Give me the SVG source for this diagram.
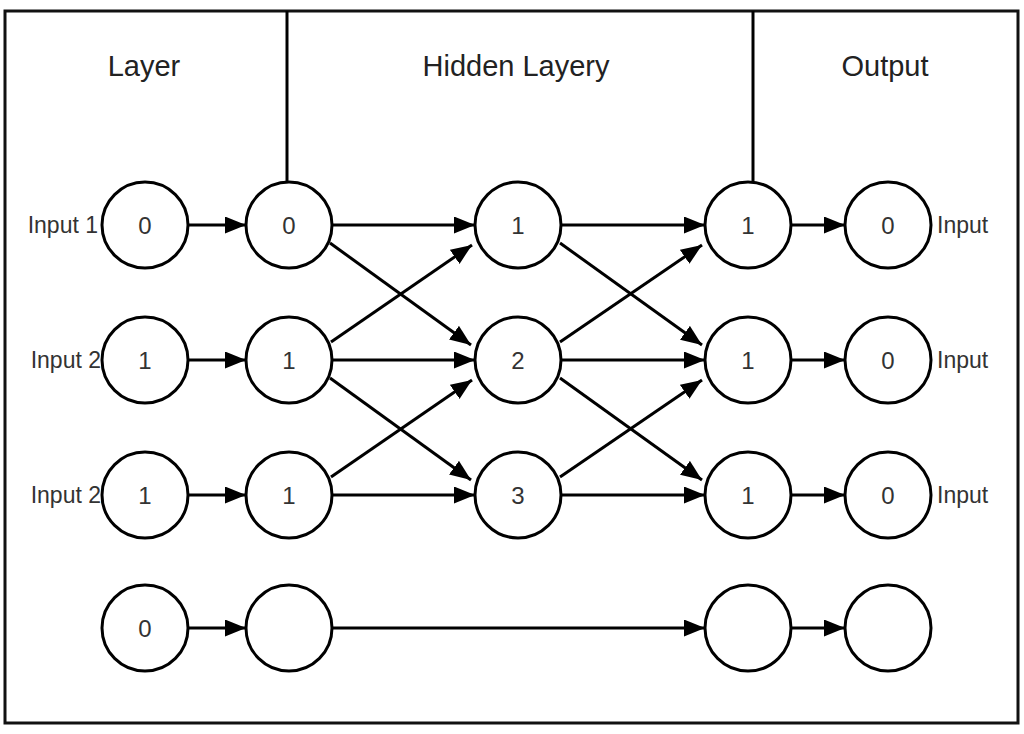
<svg xmlns="http://www.w3.org/2000/svg" width="1024" height="734" viewBox="0 0 1024 734">
<style>
.node{fill:#fff;stroke:#000;stroke-width:3}
.ntxt{font-family:"Liberation Sans",Arial,sans-serif;font-size:24px;fill:#333;text-anchor:middle}
.hdr{font-family:"Liberation Sans",Arial,sans-serif;font-size:29px;fill:#222;text-anchor:middle}
.lbl{font-family:"Liberation Sans",Arial,sans-serif;font-size:23px;fill:#333}
.edge{fill:none;stroke:#000;stroke-width:3;marker-end:url(#arr)}
.frame{fill:none;stroke:#111;stroke-width:3}
</style>
<defs>
<marker id="arr" markerUnits="userSpaceOnUse" markerWidth="24" markerHeight="20" refX="21" refY="8.5" orient="auto">
<path d="M0,0 L21,8.5 L0,17 z" fill="#000"/>
</marker>
</defs>
<rect width="1024" height="734" fill="#fff"/>
<g id="frame">
<rect class="frame" x="5" y="11" width="1013" height="712"/>
<line x1="287" y1="11" x2="287" y2="182" stroke="#000" stroke-width="3"/>
<line x1="753" y1="11" x2="753" y2="182" stroke="#000" stroke-width="3"/>
</g>
<g id="headers">
<text class="hdr" x="144" y="76">Layer</text>
<text class="hdr" x="516" y="76">Hidden Layery</text>
<text class="hdr" x="885" y="76">Output</text>
</g>
<g id="connectors">
<line class="edge" x1="188" y1="225" x2="246" y2="225"/>
<line class="edge" x1="188" y1="360" x2="246" y2="360"/>
<line class="edge" x1="188" y1="495" x2="246" y2="495"/>
<line class="edge" x1="188" y1="628" x2="246" y2="628"/>
<line class="edge" x1="332" y1="225" x2="475" y2="225"/>
<line class="edge" x1="332" y1="360" x2="475" y2="360"/>
<line class="edge" x1="332" y1="495" x2="475" y2="495"/>
<line class="edge" x1="330" y1="243" x2="471" y2="345"/>
<line class="edge" x1="330" y1="378" x2="471" y2="480"/>
<line class="edge" x1="331" y1="342" x2="472" y2="245"/>
<line class="edge" x1="331" y1="477" x2="472" y2="380"/>
<line class="edge" x1="561" y1="225" x2="705" y2="225"/>
<line class="edge" x1="561" y1="360" x2="705" y2="360"/>
<line class="edge" x1="561" y1="495" x2="705" y2="495"/>
<line class="edge" x1="560" y1="243" x2="702" y2="345"/>
<line class="edge" x1="560" y1="378" x2="702" y2="480"/>
<line class="edge" x1="560" y1="342" x2="702" y2="245"/>
<line class="edge" x1="560" y1="477" x2="702" y2="380"/>
<line class="edge" x1="791" y1="225" x2="845" y2="225"/>
<line class="edge" x1="791" y1="360" x2="845" y2="360"/>
<line class="edge" x1="791" y1="495" x2="845" y2="495"/>
<line class="edge" x1="791" y1="628" x2="845" y2="628"/>
<line class="edge" x1="332" y1="628" x2="705" y2="628"/>
</g>
<g id="labels">
<text class="lbl" x="98" y="233" text-anchor="end">Input 1</text>
<text class="lbl" x="101" y="368" text-anchor="end">Input 2</text>
<text class="lbl" x="101" y="503" text-anchor="end">Input 2</text>
<text class="lbl" x="937" y="233">Input</text>
<text class="lbl" x="937" y="368">Input</text>
<text class="lbl" x="937" y="503">Input</text>
</g>
<g id="in0"><circle class="node" cx="145" cy="225" r="43"/><text class="ntxt" x="145" y="234">0</text></g>
<g id="in1"><circle class="node" cx="145" cy="360" r="43"/><text class="ntxt" x="145" y="369">1</text></g>
<g id="in2"><circle class="node" cx="145" cy="495" r="43"/><text class="ntxt" x="145" y="504">1</text></g>
<g id="in3"><circle class="node" cx="145" cy="628" r="43"/><text class="ntxt" x="145" y="637">0</text></g>
<g id="l0"><circle class="node" cx="289" cy="225" r="43"/><text class="ntxt" x="289" y="234">0</text></g>
<g id="l1"><circle class="node" cx="289" cy="360" r="43"/><text class="ntxt" x="289" y="369">1</text></g>
<g id="l2"><circle class="node" cx="289" cy="495" r="43"/><text class="ntxt" x="289" y="504">1</text></g>
<g id="l3"><circle class="node" cx="289" cy="628" r="43"/></g>
<g id="h1"><circle class="node" cx="518" cy="225" r="43"/><text class="ntxt" x="518" y="234">1</text></g>
<g id="h2"><circle class="node" cx="518" cy="360" r="43"/><text class="ntxt" x="518" y="369">2</text></g>
<g id="h3"><circle class="node" cx="518" cy="495" r="43"/><text class="ntxt" x="518" y="504">3</text></g>
<g id="o0"><circle class="node" cx="748" cy="225" r="43"/><text class="ntxt" x="748" y="234">1</text></g>
<g id="o1"><circle class="node" cx="748" cy="360" r="43"/><text class="ntxt" x="748" y="369">1</text></g>
<g id="o2"><circle class="node" cx="748" cy="495" r="43"/><text class="ntxt" x="748" y="504">1</text></g>
<g id="o3"><circle class="node" cx="748" cy="628" r="43"/></g>
<g id="r0"><circle class="node" cx="888" cy="225" r="43"/><text class="ntxt" x="888" y="234">0</text></g>
<g id="r1"><circle class="node" cx="888" cy="360" r="43"/><text class="ntxt" x="888" y="369">0</text></g>
<g id="r2"><circle class="node" cx="888" cy="495" r="43"/><text class="ntxt" x="888" y="504">0</text></g>
<g id="r3"><circle class="node" cx="888" cy="628" r="43"/></g>
</svg>
